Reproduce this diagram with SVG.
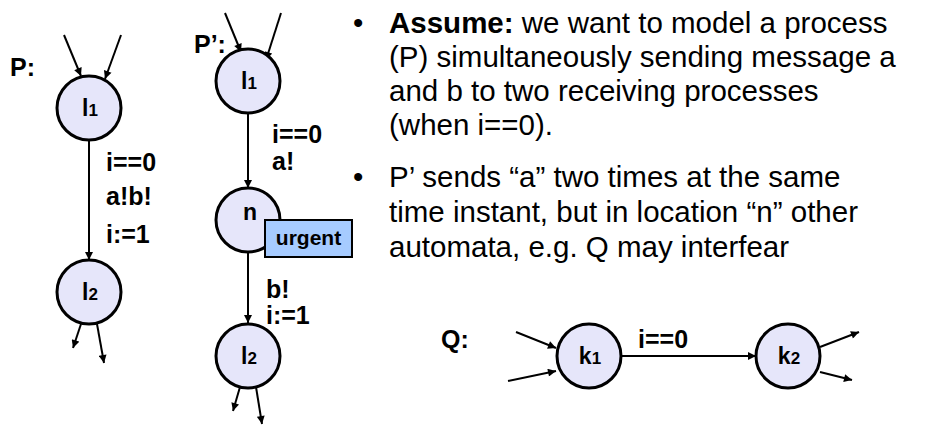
<svg xmlns="http://www.w3.org/2000/svg" width="945" height="425" viewBox="0 0 945 425">
<defs>
<marker id="ah" viewBox="0 0 10 10" refX="10" refY="5" markerWidth="9" markerHeight="8" markerUnits="userSpaceOnUse" orient="auto">
<path d="M0,0 L10,5 L0,10 z" fill="#000"/>
</marker>
</defs>
<style>
.loc{fill:#e6e6fa;stroke:#000;stroke-width:3}
.lbl{font-family:"Liberation Sans",Arial,sans-serif;font-weight:bold;font-size:25px;fill:#000}
.nm{font-family:"Liberation Sans",Arial,sans-serif;font-weight:bold;font-size:23px;fill:#000}
.sub{font-size:17px}
.edge{stroke:#000;stroke-width:2;fill:none;marker-end:url(#ah)}
.txt{font-family:"Liberation Sans",Arial,sans-serif;font-size:29.5px;fill:#000}
</style>
<rect width="945" height="425" fill="#fff"/>
<g id="connectors">
<line class="edge" x1="64" y1="35" x2="81" y2="76"/>
<line class="edge" x1="121" y1="35" x2="105" y2="79"/>
<line class="edge" x1="89" y1="140" x2="89" y2="260"/>
<line class="edge" x1="81" y1="324" x2="73" y2="348"/>
<line class="edge" x1="97" y1="324" x2="104" y2="363"/>
<line class="edge" x1="225" y1="13" x2="241" y2="52"/>
<line class="edge" x1="281" y1="13" x2="266" y2="60"/>
<line class="edge" x1="248" y1="113" x2="248" y2="188"/>
<line class="edge" x1="248" y1="252" x2="248" y2="323"/>
<line class="edge" x1="240" y1="387" x2="233" y2="411"/>
<line class="edge" x1="256" y1="387" x2="262" y2="424"/>
<line class="edge" x1="516" y1="332" x2="556" y2="348"/>
<line class="edge" x1="508" y1="381" x2="556" y2="371"/>
<line class="edge" x1="622" y1="356" x2="756" y2="356"/>
<line class="edge" x1="820" y1="347" x2="859" y2="332"/>
<line class="edge" x1="820" y1="372" x2="852" y2="380"/>
</g>
<g id="P">
<text class="lbl" x="10" y="76">P:</text>
</g>
<g id="P_l1">
<circle class="loc" cx="89" cy="108" r="32"/>
<text class="nm" x="90" y="116" text-anchor="middle">l<tspan class="sub">1</tspan></text>
</g>
<g id="P_edge_label">
<text class="lbl" x="106" y="171">i==0</text>
<text class="lbl" x="106" y="205">a!b!</text>
<text class="lbl" x="106" y="243">i:=1</text>
</g>
<g id="P_l2">
<circle class="loc" cx="89" cy="292" r="32"/>
<text class="nm" x="90" y="300" text-anchor="middle">l<tspan class="sub">2</tspan></text>
</g>
<g id="Pp">
<text class="lbl" x="194" y="53">P’:</text>
</g>
<g id="Pp_l1">
<circle class="loc" cx="248" cy="81" r="32"/>
<text class="nm" x="249" y="89" text-anchor="middle">l<tspan class="sub">1</tspan></text>
</g>
<g id="Pp_edge1_label">
<text class="lbl" x="272" y="143">i==0</text>
<text class="lbl" x="272" y="170">a!</text>
</g>
<g id="Pp_n">
<circle class="loc" cx="248" cy="220" r="32"/>
<text class="nm" x="250" y="220" text-anchor="middle">n</text>
</g>
<g id="urgent">
<rect x="265" y="220" width="87" height="37" fill="#a6cbff" stroke="#000" stroke-width="2"/>
<text class="lbl" x="308.5" y="245" text-anchor="middle" style="font-size:21px">urgent</text>
</g>
<g id="Pp_edge2_label">
<text class="lbl" x="266" y="298">b!</text>
<text class="lbl" x="266" y="324">i:=1</text>
</g>
<g id="Pp_l2">
<circle class="loc" cx="248" cy="356" r="32"/>
<text class="nm" x="249" y="364" text-anchor="middle">l<tspan class="sub">2</tspan></text>
</g>
<g id="Q">
<text class="lbl" x="441" y="348">Q:</text>
</g>
<g id="Q_k1">
<circle class="loc" cx="589" cy="356" r="32"/>
<text class="nm" x="590" y="364" text-anchor="middle">k<tspan class="sub">1</tspan></text>
</g>
<g id="Q_edge_label">
<text class="lbl" x="638" y="348">i==0</text>
</g>
<g id="Q_k2">
<circle class="loc" cx="788" cy="356" r="32"/>
<text class="nm" x="789" y="364" text-anchor="middle">k<tspan class="sub">2</tspan></text>
</g>
<g id="bullets">
<text class="txt" x="353" y="33">•</text>
<text class="txt" x="389" y="33"><tspan font-weight="bold">Assume:</tspan> we want to model a process</text>
<text class="txt" x="389" y="67">(P) simultaneously sending message a</text>
<text class="txt" x="389" y="101">and b to two receiving processes</text>
<text class="txt" x="389" y="135">(when i==0).</text>
<text class="txt" x="353" y="187">•</text>
<text class="txt" x="389" y="187">P’ sends “a” two times at the same</text>
<text class="txt" x="389" y="222">time instant, but in location “n” other</text>
<text class="txt" x="389" y="257">automata, e.g. Q may interfear</text>
</g>
</svg>
